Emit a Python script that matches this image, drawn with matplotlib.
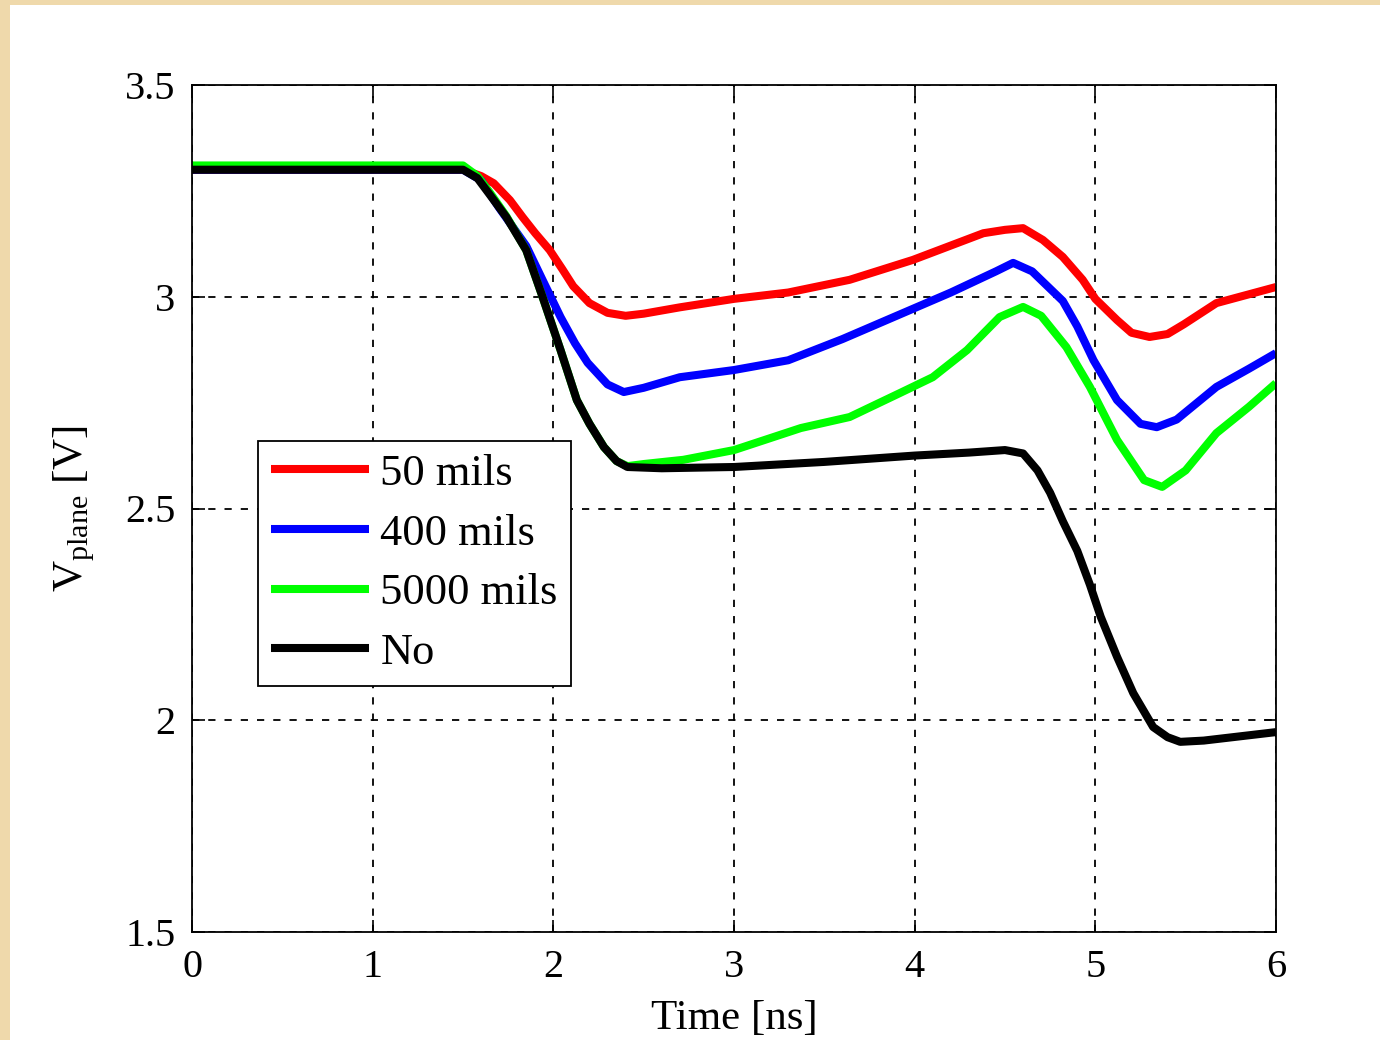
import matplotlib.pyplot as plt
from matplotlib.patches import Rectangle

# values (time in ns, voltage in V)
t_red = [0, 1.5, 1.6, 1.67, 1.76, 1.83, 1.9, 1.98, 2.05, 2.11, 2.2, 2.3, 2.4, 2.5, 2.7,
         3.0, 3.3, 3.64, 3.99, 4.38, 4.5, 4.6, 4.71, 4.82, 4.93, 5.0, 5.12, 5.2, 5.3,
         5.4, 5.49, 5.67, 5.8, 6.0]
v_red = [3.30, 3.30, 3.285, 3.268, 3.228, 3.188, 3.15, 3.11, 3.065, 3.025, 2.985, 2.962,
         2.955, 2.96, 2.975, 2.995, 3.01, 3.04, 3.087, 3.15, 3.158, 3.162, 3.134, 3.094,
         3.04, 2.995, 2.945, 2.915, 2.905, 2.912, 2.935, 2.985, 3.0, 3.023]

t_blue = [0, 1.5, 1.6, 1.7, 1.85, 1.94, 2.04, 2.12, 2.19, 2.3, 2.39, 2.5, 2.7, 3.0, 3.3,
          3.6, 3.9, 4.2, 4.45, 4.545, 4.65, 4.82, 4.9, 4.99, 5.12, 5.25, 5.34, 5.45,
          5.67, 5.85, 6.0]
v_blue = [3.30, 3.30, 3.275, 3.21, 3.12, 3.04, 2.952, 2.89, 2.844, 2.793, 2.775, 2.785,
          2.81, 2.827, 2.85, 2.9, 2.955, 3.01, 3.06, 3.08, 3.06, 2.99, 2.93, 2.85, 2.756,
          2.70, 2.692, 2.71, 2.787, 2.83, 2.867]

t_green = [0, 1.5, 1.58, 1.65, 1.74, 1.85, 1.94, 2.04, 2.13, 2.2, 2.28, 2.35, 2.41, 2.5,
           2.72, 3.0, 3.37, 3.64, 3.92, 4.1, 4.29, 4.47, 4.6, 4.7, 4.84, 4.97, 5.12,
           5.27, 5.37, 5.5, 5.67, 5.85, 6.0]
v_green = [3.31, 3.31, 3.285, 3.245, 3.19, 3.11, 3.00, 2.874, 2.756, 2.70, 2.645, 2.612,
           2.6, 2.605, 2.615, 2.638, 2.69, 2.716, 2.773, 2.81, 2.874, 2.952, 2.976, 2.955,
           2.881, 2.787, 2.662, 2.567, 2.551, 2.59, 2.678, 2.74, 2.796]

t_black = [0, 1.5, 1.58, 1.65, 1.74, 1.85, 1.94, 2.04, 2.13, 2.2, 2.28, 2.35, 2.41, 2.6,
           3.0, 3.5, 4.0, 4.3, 4.5, 4.6, 4.68, 4.75, 4.82, 4.9, 4.97, 5.03, 5.12, 5.21,
           5.32, 5.4, 5.47, 5.6, 5.76, 6.0]
v_black = [3.30, 3.30, 3.28, 3.24, 3.188, 3.11, 3.00, 2.874, 2.756, 2.70, 2.645, 2.612,
           2.598, 2.595, 2.598, 2.61, 2.625, 2.632, 2.638, 2.63, 2.59, 2.537, 2.47, 2.40,
           2.32, 2.244, 2.15, 2.064, 1.984, 1.96, 1.949, 1.952, 1.96, 1.972]

labels = ['50 mils', '400 mils', '5000 mils', 'No']
colors = ['#ff0000', '#0000ff', '#00ff00', '#000000']

plt.rcParams['font.family'] = ['Liberation Serif', 'DejaVu Serif']
plt.rcParams['mathtext.fontset'] = 'custom'
plt.rcParams['mathtext.rm'] = 'Liberation Serif'

fig = plt.figure(figsize=(13.8, 10.4), dpi=100, facecolor='#efd9ab')
# white page inside the beige frame
fig.patches.append(Rectangle((10 / 1380, 0), 1, 1 - 5 / 1040, transform=fig.transFigure,
                             facecolor='white', edgecolor='none', zorder=-5))
ax = fig.add_axes([192 / 1380, 1 - 932 / 1040, (1276 - 192) / 1380, (932 - 85) / 1040])
ax.set_zorder(2)

series = [(t_red, v_red), (t_blue, v_blue), (t_green, v_green), (t_black, v_black)]
for (t, v), lab, c in zip(series, labels, colors):
    ax.plot(t, v, color=c, lw=5.8, label=lab, solid_capstyle='butt')

ax.set_xlim(0, 6)
ax.set_ylim(1.5, 3.5)
ax.set_xticks([0, 1, 2, 3, 4, 5, 6])
ax.set_yticks([1.5, 2, 2.5, 3, 3.5])
ax.set_yticklabels(['1.5', '2', '2.5', '3', '3.5'])
ax.grid(True, color='black', linestyle=(0, (4, 5)), linewidth=1.3)
ax.tick_params(direction='in', length=9, width=1.2, top=True, right=True,
               labelsize=29, pad=12)
for s in ax.spines.values():
    s.set_linewidth(1.3)

ax.set_xlabel('Time [ns]', fontsize=31, labelpad=10)
ax.set_ylabel(r'V$_{\rm plane}$ [V]', fontsize=31, labelpad=20)

leg = ax.legend(loc='lower left', bbox_to_anchor=(0.061, 0.290), borderaxespad=0,
                fontsize=32, handlelength=2.2, handletextpad=0.25, labelspacing=0.44,
                borderpad=0.3, fancybox=False, framealpha=1, edgecolor='black')
leg.get_frame().set_linewidth(1.3)

fig.savefig('out.png', dpi=100, facecolor=fig.get_facecolor())
